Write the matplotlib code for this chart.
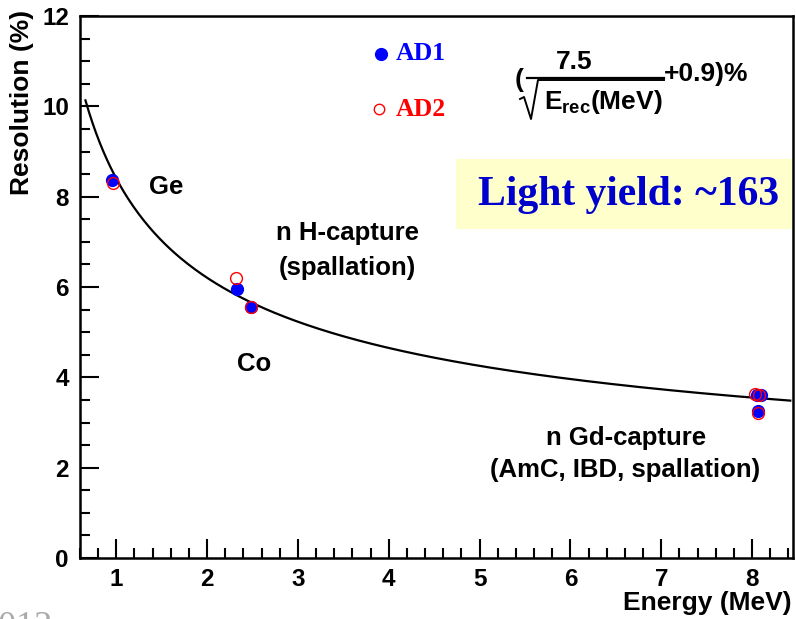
import numpy as np
import matplotlib.pyplot as plt
from matplotlib.ticker import MultipleLocator
from matplotlib.patches import Rectangle
from matplotlib.lines import Line2D

# reconstructed energy (MeV) and resolution (%) for each calibration source
ad1_energy = [0.957, 2.33, 2.48, 8.05, 8.10, 8.06]
ad1_res = [8.36, 5.96, 5.55, 3.61, 3.60, 3.25]
ad2_energy = [0.962, 2.32, 2.48, 8.03, 8.08, 8.06]
ad2_res = [8.30, 6.20, 5.56, 3.62, 3.61, 3.22]

# fit: sigma/E = a/sqrt(E) + b
fit_a = 7.5
fit_b = 0.9
fit_range = (0.66, 8.42)

sans = 'Liberation Sans'
serif = 'Liberation Serif'

plt.rcParams['mathtext.fontset'] = 'custom'
plt.rcParams['mathtext.rm'] = 'Liberation Sans:bold'
plt.rcParams['mathtext.it'] = 'Liberation Sans:bold'
plt.rcParams['mathtext.bf'] = 'Liberation Sans:bold'

W, H = 796, 619
fig = plt.figure(figsize=(W / 100, H / 100), dpi=100)


def px(x, y):
    # pixel position (from top-left) -> figure fraction
    return x / W, 1 - y / H


ax = fig.add_axes([80 / W, 1 - 558 / H, 713 / W, 542 / H])

e = np.linspace(fit_range[0], fit_range[1], 400)
ax.plot(e, fit_a / np.sqrt(e) + fit_b, color='black', lw=1.6, zorder=2)

ax.plot(ad1_energy, ad1_res, 'o', ms=8.5, mfc='blue', mec='blue', zorder=3)
ax.plot(ad2_energy, ad2_res, 'o', ms=8.5, mfc='none', mec='red', mew=1.0, zorder=4)

ax.set_xlim(0.6, 8.45)
ax.set_ylim(0, 12)
ax.xaxis.set_major_locator(MultipleLocator(1))
ax.xaxis.set_minor_locator(MultipleLocator(0.2))
ax.yaxis.set_major_locator(MultipleLocator(2))
ax.yaxis.set_minor_locator(MultipleLocator(0.5))
ax.tick_params(which='both', direction='in', top=False, right=False, width=1.5)
ax.tick_params(which='major', length=13.5)
ax.tick_params(which='minor', length=7)
ax.tick_params(axis='y', pad=8)
ax.tick_params(axis='x', pad=7)
for lab in ax.get_xticklabels() + ax.get_yticklabels():
    lab.set_fontfamily(sans)
    lab.set_fontweight('bold')
    lab.set_fontsize(17.5)
for s in ax.spines.values():
    s.set_linewidth(1.8)

fig.text(*px(22, 10), 'Resolution (%)', rotation=90, ha='center', va='top',
         fontsize=19, fontweight='bold', family=sans)
fig.text(*px(792, 603), 'Energy (MeV)', ha='right', va='center',
         fontsize=19, fontweight='bold', family=sans)

# source labels
lab_kw = dict(fontsize=18.5, fontweight='bold', family=sans, ha='center', va='center')
fig.text(*px(166, 187), 'Ge', **lab_kw)
fig.text(*px(254, 364), 'Co', **lab_kw)
fig.text(*px(347, 233), 'n H-capture', **lab_kw)
fig.text(*px(347, 268), '(spallation)', **lab_kw)
fig.text(*px(626, 438), 'n Gd-capture', **lab_kw)
fig.text(*px(625, 470), '(AmC, IBD, spallation)', **lab_kw)

# legend
fig.lines.append(Line2D([381 / W], [1 - 54 / H], marker='o', ms=8.5, mfc='blue', mec='blue',
                        transform=fig.transFigure))
fig.lines.append(Line2D([379 / W], [1 - 109 / H], marker='o', ms=7.5, mfc='none', mec='red',
                        mew=1.0, transform=fig.transFigure))
fig.text(*px(396, 54), 'AD1', color='blue', fontsize=18.5, fontweight='bold', family=serif,
         ha='left', va='center')
fig.text(*px(396, 109), 'AD2', color='red', fontsize=18.5, fontweight='bold', family=serif,
         ha='left', va='center')

# resolution formula
f_kw = dict(fontsize=19, fontweight='bold', family=sans, va='center')
fig.text(*px(519, 80), '(', ha='center', **f_kw)
fig.text(*px(574, 62), '7.5', ha='center', **f_kw)
fig.lines.append(Line2D([527 / W, 664 / W], [1 - 78 / H, 1 - 78 / H], color='black', lw=1.6,
                        transform=fig.transFigure))
sq_x = [520, 524, 531, 538, 664]
sq_y = [99, 97, 119, 80, 80]
fig.lines.append(Line2D([x / W for x in sq_x], [1 - y / H for y in sq_y], color='black',
                        lw=1.4, transform=fig.transFigure))
fig.text(*px(603, 102), r'$E_{rec}(MeV)$', ha='center', va='center', fontsize=19)
fig.text(*px(664, 74), '+0.9)%', ha='left', **f_kw)

# light yield box
fig.patches.append(Rectangle(px(456, 229), 336 / W, 70 / H, transform=fig.transFigure,
                             fc='#ffffcc', ec='none', zorder=5))
fig.text(*px(629, 195), 'Light yield: ~163', color='#0000cc', fontsize=30,
         fontweight='bold', family=serif, ha='center', va='center', zorder=10)

fig.text(*px(-20, 611), '2012', color='#aaaaaa', fontsize=26, family=serif,
         ha='left', va='top')

fig.savefig('out.png', dpi=100)
